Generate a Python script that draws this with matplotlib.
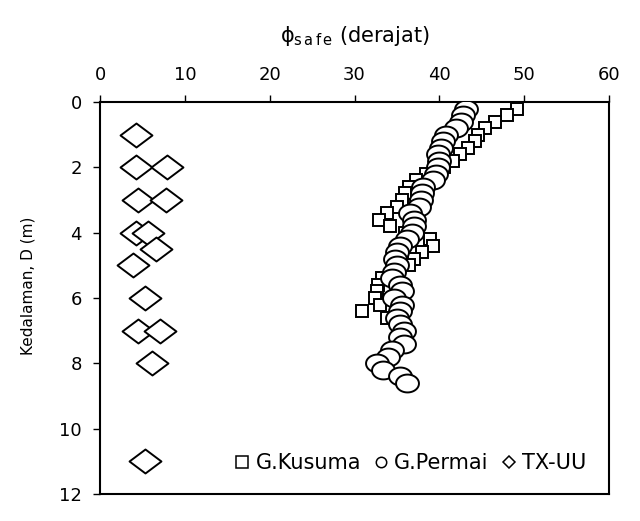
import numpy as np
import matplotlib
matplotlib.use("Agg")
import matplotlib.pyplot as plt
from matplotlib.path import Path
from matplotlib.lines import Line2D

plt.rcParams['font.family'] = ['DejaVu Sans']
plt.rcParams['mathtext.fontset'] = 'dejavusans'

# G.Kusuma (squares)
kusuma_depth = [0.2, 0.4, 0.6, 0.8, 1.0, 1.2, 1.4, 1.6, 1.8, 2.0, 2.2, 2.4, 2.6, 2.8,
                3.0, 3.2, 3.4, 3.6, 3.8, 4.0, 4.2, 4.4, 4.6, 4.8, 5.0, 5.2, 5.4, 5.6,
                5.8, 6.0, 6.2, 6.4, 6.6]
kusuma_phi = [49.1, 48.0, 46.6, 45.4, 44.6, 44.2, 43.4, 42.4, 41.6, 40.6, 38.4, 37.2,
              36.4, 36.0, 35.6, 35.0, 33.8, 32.9, 34.2, 36.0, 38.9, 39.3, 38.0, 37.0,
              36.4, 35.0, 33.2, 32.8, 32.6, 32.4, 33.0, 30.9, 33.8]

# G.Permai (circles)
permai_depth = [0.2, 0.4, 0.6, 0.8, 1.0, 1.2, 1.4, 1.6, 1.8, 2.0, 2.2, 2.4, 2.6, 2.8,
                3.0, 3.2, 3.4, 3.6, 3.8, 4.0, 4.2, 4.4, 4.6, 4.8, 5.0, 5.2, 5.4, 5.6,
                5.8, 6.0, 6.2, 6.4, 6.6, 6.8, 7.0, 7.2, 7.4, 7.6, 7.8, 8.0, 8.2, 8.4, 8.6]
permai_phi = [43.1, 42.8, 42.5, 42.0, 40.8, 40.4, 40.2, 39.9, 40.0, 39.8, 39.6, 39.3,
              38.1, 37.9, 37.8, 37.6, 36.6, 37.0, 37.0, 36.8, 36.2, 35.4, 35.0, 34.8,
              35.0, 34.6, 34.4, 35.4, 35.6, 34.6, 35.6, 35.4, 35.0, 35.4, 35.8, 35.4,
              35.8, 34.4, 34.0, 32.6, 33.4, 35.4, 36.2]

# TX-UU (diamonds)
txuu_depth = [1.0, 2.0, 2.0, 3.0, 3.0, 4.0, 4.0, 4.5, 5.0, 6.0, 7.0, 7.0, 8.0, 11.0]
txuu_phi = [4.2, 4.2, 7.9, 4.5, 7.8, 4.2, 5.6, 6.6, 3.9, 5.3, 4.5, 7.1, 6.1, 5.3]

x_ticks = [0, 10, 20, 30, 40, 50, 60]
y_ticks = [0, 2, 4, 6, 8, 10, 12]

fig = plt.figure(figsize=(6.4, 5.21), dpi=100)
ax = fig.add_axes([100/640, 1-494/521, 509/640, 392/521])

# custom wide markers
t = np.linspace(0, 2*np.pi, 60)
ellipse = Path(np.column_stack([np.cos(t), 0.78*np.sin(t)]), closed=True)
diamond = Path([(-1, 0), (0, 0.75), (1, 0), (0, -0.75), (-1, 0)], closed=True)

ax.plot(kusuma_phi, kusuma_depth, linestyle='none', marker='s', markersize=8.5,
        mfc='white', mec='black', mew=1.4, zorder=3)
ax.plot(permai_phi, permai_depth, linestyle='none', marker=ellipse, markersize=16.5,
        mfc='white', mec='black', mew=1.4, zorder=4)
ax.plot(txuu_phi, txuu_depth, linestyle='none', marker=diamond, markersize=23,
        mfc='white', mec='black', mew=1.4, zorder=3)

ax.set_xlim(0, 60)
ax.set_ylim(12, 0)
ax.set_xticks(x_ticks)
ax.set_yticks(y_ticks)
ax.xaxis.tick_top()
ax.xaxis.set_label_position('top')
ax.tick_params(axis='x', direction='out', length=5, width=1, labelsize=13, pad=8,
               top=True, bottom=False)
ax.tick_params(axis='y', direction='out', length=5, width=1, labelsize=13, pad=8,
               left=True, right=False)
for s in ax.spines.values():
    s.set_linewidth(1.5)

ax.set_xlabel(r'$\mathrm{\phi}_{\mathrm{s\,a\,f\,e}}$ (derajat)', fontsize=15, labelpad=17)
ax.set_ylabel('Kedalaman, D (m)', fontsize=11)
ax.yaxis.set_label_coords(-0.127, 0.53)

handles = [
    Line2D([], [], linestyle='none', marker='s', markersize=8, mfc='white', mec='black', mew=1.1),
    Line2D([], [], linestyle='none', marker='o', markersize=7.5, mfc='white', mec='black', mew=1.1),
    Line2D([], [], linestyle='none', marker='D', markersize=6.5, mfc='white', mec='black', mew=1.1),
]
ax.legend(handles, ['G.Kusuma', 'G.Permai', 'TX-UU'], loc='center',
          bbox_to_anchor=(409/640, 1-463/521), bbox_transform=fig.transFigure,
          ncol=3, frameon=False, handletextpad=0.15, columnspacing=0.45,
          handlelength=1.0, fontsize=15)

fig.savefig('out.png', dpi=100)
